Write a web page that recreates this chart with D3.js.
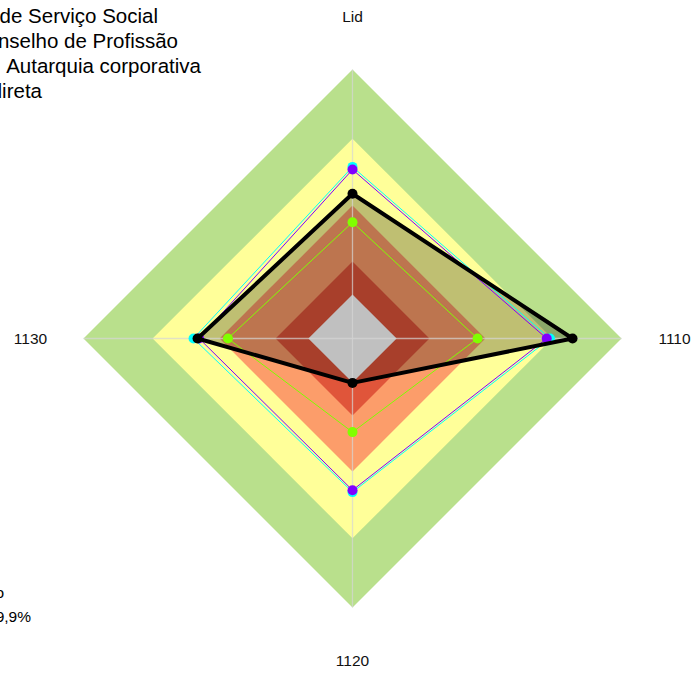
<!DOCTYPE html>
<html lang="pt">
<head>
<meta charset="utf-8">
<title>Radar</title>
<script src="https://cdn.jsdelivr.net/npm/d3@7"></script>
<style>
  body{ margin:0; background:#fff; font-family:Arial, "Liberation Sans", sans-serif; }
  svg{ display:block; }
</style>
</head>
<body>
<div id="chart"></div>
<script>
var axes = ["Lid", "1110", "1120", "1130"]
var bandLimits = [100, 74.3, 49.4, 28.6, 16.4]
var bandColors = ["#b9e08c", "#ffff99", "#fc9d6a", "#e0553a", "#c0c0c0"]

var seriesNames = ["Conselho Regional de Serviço Social", "Conselho de Profissão", "Autarquia corporativa", "Administração indireta"]
var seriesColors = ["#000000", "#80ff00", "#00ffff", "#8000ff"]
var blackValues  = [53.8, 81.8, 16.5, 57.6]
var limeValues   = [43.2, 46.5, 34.8, 46.3]
var cyanValues   = [63.8, 73.4, 57.1, 59.1]
var purpleValues = [62.8, 72.2, 56.4, 57.0]

var footLines = ["Resultado", "Média: 59,9%"]

var width = 696, height = 673
var cx = 352.5, cy = 338.5
var r = d3.scaleLinear().domain([0, 100]).range([0, 269])
var angle = d3.scalePoint().domain(axes).range([0, 1.5 * Math.PI])

var svg = d3.select("#chart").append("svg").attr("width", width).attr("height", height)
var g = svg.append("g").attr("transform", "translate(" + cx + "," + cy + ")")

var radial = d3.lineRadial()
  .angle(function(d, i){ return angle(axes[i]) })
  .radius(function(d){ return r(d) })
  .curve(d3.curveLinearClosed)

function ring(v){ return axes.map(function(){ return v }) }

// coloured bands, without the grey core
g.selectAll(".band")
  .data(bandLimits.slice(0, 4))
  .enter()
  .append("path")
  .attr("class", "band")
  .attr("d", function(d){ return radial(ring(d)) })
  .attr("fill", function(d, i){ return bandColors[i] })

// shaded area of the main series
g.append("path")
  .attr("d", radial(blackValues))
  .attr("fill", "rgba(0,0,0,0.25)")

// grey core
g.append("path")
  .attr("d", radial(ring(bandLimits[4])))
  .attr("fill", bandColors[4])

// axis lines
g.selectAll(".axis")
  .data(axes)
  .enter()
  .append("line")
  .attr("x1", 0).attr("y1", 0)
  .attr("x2", function(d){ return r(100) * Math.sin(angle(d)) })
  .attr("y2", function(d){ return -r(100) * Math.cos(angle(d)) })
  .attr("stroke", "#d6d6d6")
  .attr("stroke-opacity", 0.7)
  .attr("stroke-width", 1.3)

g.selectAll(".axisLabel")
  .data(axes)
  .enter()
  .append("text")
  .attr("x", function(d){ return 322 * Math.sin(angle(d)) })
  .attr("y", function(d){ return -322 * Math.cos(angle(d)) })
  .attr("dy", "0.36em")
  .attr("text-anchor", "middle")
  .attr("font-size", 15.5)
  .attr("fill", "#111")
  .text(function(d){ return d })

// series, drawn bottom to top
var series = [
  {values: limeValues, color: seriesColors[1], w: 1},
  {values: cyanValues, color: seriesColors[2], w: 1},
  {values: purpleValues, color: seriesColors[3], w: 1},
  {values: blackValues, color: seriesColors[0], w: 4}
]

series.forEach(function(s){
  g.append("path")
    .attr("d", radial(s.values))
    .attr("fill", "none")
    .attr("stroke", s.color)
    .attr("stroke-width", s.w)
    .attr("stroke-linejoin", "round")
  g.selectAll(null)
    .data(s.values)
    .enter()
    .append("circle")
    .attr("cx", function(d, i){ return r(d) * Math.sin(angle(axes[i])) })
    .attr("cy", function(d, i){ return -r(d) * Math.cos(angle(axes[i])) })
    .attr("r", 5)
    .attr("fill", s.color)
})

// legend, partly off the left edge
var legendEnds = [158, 178, 201, 42]
svg.selectAll(".legend")
  .data(seriesNames)
  .enter()
  .append("text")
  .attr("class", "legend")
  .attr("x", function(d, i){ return legendEnds[i] })
  .attr("y", function(d, i){ return 23 + i * 25 })
  .attr("text-anchor", "end")
  .attr("font-size", 20.5)
  .attr("fill", "#000")
  .text(function(d){ return d })

svg.selectAll(".foot")
  .data(footLines)
  .enter()
  .append("text")
  .attr("x", function(d, i){ return i == 0 ? 4 : 31 })
  .attr("y", function(d, i){ return 598 + i * 24 })
  .attr("text-anchor", "end")
  .attr("font-size", 15.5)
  .attr("fill", "#000")
  .text(function(d){ return d })
</script>
</body>
</html>
